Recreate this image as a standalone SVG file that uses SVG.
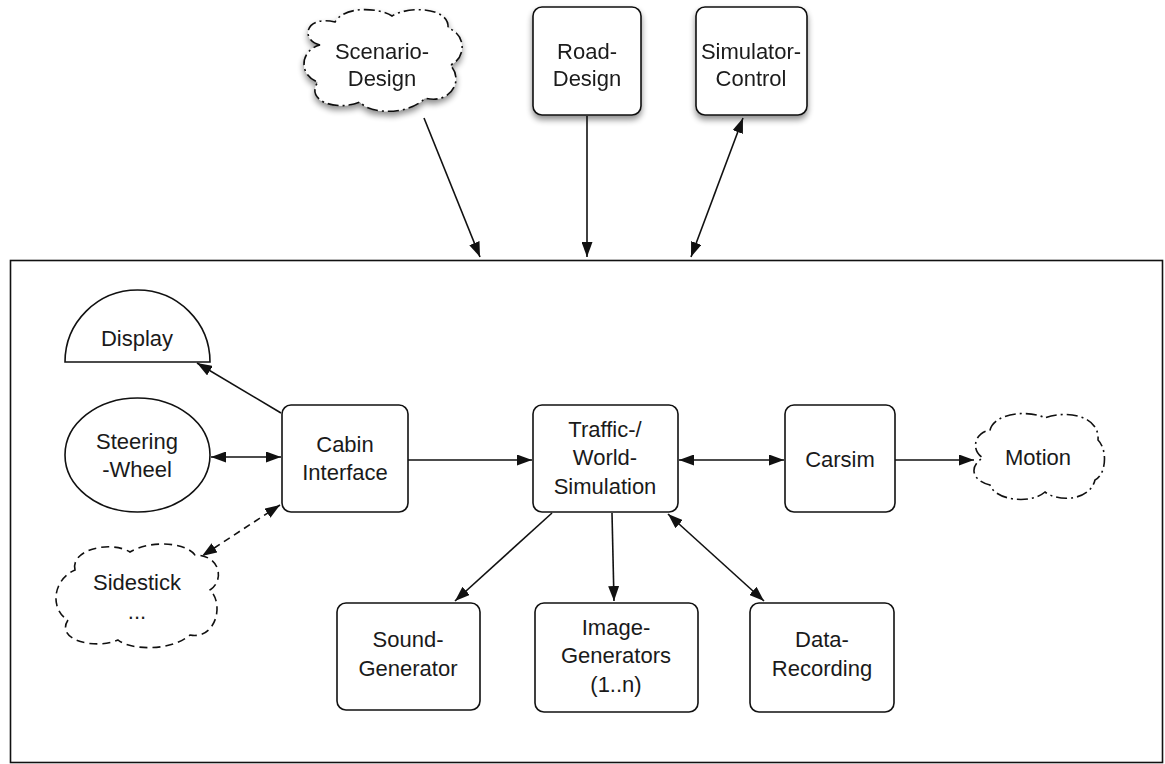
<svg xmlns="http://www.w3.org/2000/svg" width="1165" height="764" viewBox="0 0 1165 764">
  <style>
    .box { fill: #ffffff; stroke: #111111; stroke-width: 1.6; }
    .cloud-dd { fill: #ffffff; stroke: #111111; stroke-width: 1.6; stroke-dasharray: 11 4 2 4; }
    .cloud-d { fill: #ffffff; stroke: #111111; stroke-width: 1.6; stroke-dasharray: 8 5; }
    .lbl { font-family: "Liberation Sans", Arial, Helvetica, sans-serif; font-size: 22px; fill: #1a1a1a; text-anchor: middle; }
    .edge { fill: none; stroke: #111111; stroke-width: 1.6; }
    .edge-d { fill: none; stroke: #111111; stroke-width: 1.6; stroke-dasharray: 7 5; }
  </style>
  <defs>
    <marker id="head" viewBox="0 0 15 11" refX="15" refY="5.5" markerWidth="15" markerHeight="11" markerUnits="userSpaceOnUse" orient="auto-start-reverse">
      <path d="M0,0 L15,5.5 L0,11 Z" fill="#111111"/>
    </marker>
    <filter id="shadow" x="-20%" y="-20%" width="150%" height="160%">
      <feGaussianBlur in="SourceAlpha" stdDeviation="3"/>
      <feOffset dx="0" dy="4" result="b"/>
      <feComponentTransfer><feFuncA type="linear" slope="0.45"/></feComponentTransfer>
      <feMerge><feMergeNode/><feMergeNode in="SourceGraphic"/></feMerge>
    </filter>
  </defs>

  <rect width="1165" height="764" fill="#ffffff"/>

  <!-- simulator frame -->
  <g id="simulator-frame">
    <rect x="10.5" y="260.5" width="1152" height="502" fill="#ffffff" stroke="#111111" stroke-width="1.6"/>
  </g>

  <!-- external tools -->
  <g id="scenario-design" filter="url(#shadow)">
    <path class="cloud-dd" d="M320,45 C300,40 305,15 335,22 C345,5 380,8 392,16 C410,5 450,8 448,28 C468,35 465,60 450,65 C465,80 450,105 425,98 C410,115 370,115 360,102 C335,112 305,100 318,82 C298,75 300,50 320,45 Z"/>
    <text class="lbl" x="382" y="59">Scenario-</text>
    <text class="lbl" x="382" y="86">Design</text>
  </g>
  <g id="road-design" filter="url(#shadow)">
    <rect class="box" x="533" y="7" width="108" height="108" rx="9"/>
    <text class="lbl" x="587" y="59">Road-</text>
    <text class="lbl" x="587" y="86">Design</text>
  </g>
  <g id="simulator-control" filter="url(#shadow)">
    <rect class="box" x="696" y="7" width="111" height="108" rx="9"/>
    <text class="lbl" x="751" y="59">Simulator-</text>
    <text class="lbl" x="751" y="86">Control</text>
  </g>

  <!-- cabin side -->
  <g id="display">
    <path class="box" d="M65,362 A72.5,72 0 0 1 210,362 Z"/>
    <text class="lbl" x="137" y="346">Display</text>
  </g>
  <g id="steering-wheel">
    <ellipse class="box" cx="137.5" cy="455" rx="72.5" ry="57"/>
    <text class="lbl" x="137" y="449">Steering</text>
    <text class="lbl" x="137" y="477">-Wheel</text>
  </g>
  <g id="sidestick">
    <path class="cloud-d" d="M75,570 C70,550 110,540 130,552 C150,540 185,542 195,555 C220,555 225,580 210,590 C225,605 215,640 190,635 C170,652 130,650 118,640 C95,650 55,640 68,620 C50,610 52,580 75,570 Z"/>
    <text class="lbl" x="137" y="590">Sidestick</text>
    <text class="lbl" x="137" y="619">...</text>
  </g>
  <g id="cabin-interface">
    <rect class="box" x="282" y="405" width="126" height="107" rx="9"/>
    <text class="lbl" x="345" y="452">Cabin</text>
    <text class="lbl" x="345" y="480">Interface</text>
  </g>

  <!-- core -->
  <g id="traffic-world-simulation">
    <rect class="box" x="533" y="405" width="145" height="107" rx="9"/>
    <text class="lbl" x="605" y="437">Traffic-/</text>
    <text class="lbl" x="605" y="465">World-</text>
    <text class="lbl" x="605" y="494">Simulation</text>
  </g>
  <g id="carsim">
    <rect class="box" x="785" y="405" width="110" height="107" rx="9"/>
    <text class="lbl" x="840" y="467">Carsim</text>
  </g>
  <g id="motion">
    <path class="cloud-dd" d="M990,430 C995,412 1030,410 1045,418 C1065,410 1100,415 1098,440 C1108,450 1106,475 1095,480 C1090,500 1060,503 1045,492 C1030,505 995,500 990,485 C970,480 970,465 983,458 C970,450 975,432 990,430 Z"/>
    <text class="lbl" x="1038" y="465">Motion</text>
  </g>

  <!-- outputs -->
  <g id="sound-generator">
    <rect class="box" x="337" y="603" width="143" height="107" rx="9"/>
    <text class="lbl" x="408" y="647">Sound-</text>
    <text class="lbl" x="408" y="676">Generator</text>
  </g>
  <g id="image-generators">
    <rect class="box" x="535" y="603" width="163" height="109" rx="9"/>
    <text class="lbl" x="616" y="635">Image-</text>
    <text class="lbl" x="616" y="663">Generators</text>
    <text class="lbl" x="616" y="692">(1..n)</text>
  </g>
  <g id="data-recording">
    <rect class="box" x="750" y="603" width="144" height="109" rx="9"/>
    <text class="lbl" x="822" y="647">Data-</text>
    <text class="lbl" x="822" y="676">Recording</text>
  </g>

  <!-- connectors -->
  <g id="connectors">
    <line class="edge" x1="424" y1="118" x2="480" y2="257" marker-end="url(#head)"/>
    <line class="edge" x1="587" y1="116" x2="587" y2="257" marker-end="url(#head)"/>
    <line class="edge" x1="743" y1="118" x2="691" y2="257" marker-start="url(#head)" marker-end="url(#head)"/>
    <line class="edge" x1="281" y1="413" x2="197" y2="363" marker-end="url(#head)"/>
    <line class="edge" x1="211" y1="457" x2="281" y2="457" marker-start="url(#head)" marker-end="url(#head)"/>
    <line class="edge-d" x1="280" y1="505" x2="202" y2="556" marker-start="url(#head)" marker-end="url(#head)"/>
    <line class="edge" x1="408" y1="460" x2="532" y2="460" marker-end="url(#head)"/>
    <line class="edge" x1="679" y1="460" x2="784" y2="460" marker-start="url(#head)" marker-end="url(#head)"/>
    <line class="edge" x1="895" y1="460" x2="974" y2="460" marker-end="url(#head)"/>
    <line class="edge" x1="552" y1="513" x2="455" y2="601" marker-end="url(#head)"/>
    <line class="edge" x1="612" y1="513" x2="614" y2="601" marker-end="url(#head)"/>
    <line class="edge" x1="668" y1="514" x2="764" y2="601" marker-start="url(#head)" marker-end="url(#head)"/>
  </g>
</svg>
